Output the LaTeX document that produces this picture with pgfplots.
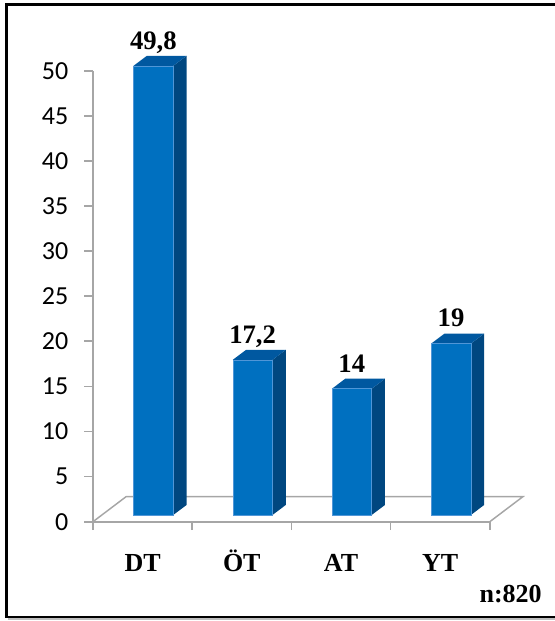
\documentclass[border=0pt]{standalone}
\usepackage{pgfplots}
\usepackage{pgfplotstable}
\pgfplotsset{compat=1.18}
\usepackage{fontspec}
\setmainfont{Liberation Serif}
\newfontfamily\carlito{Carlito}
\definecolor{barfront}{RGB}{0,112,192}
\definecolor{bartop}{RGB}{0,88,160}
\definecolor{barside}{RGB}{0,71,128}
\definecolor{baredge}{RGB}{80,150,215}
\definecolor{axisgray}{RGB}{166,166,166}

\pgfplotstableread{
x v lab
0.5 49.8 49,8
1.5 17.2 17,2
2.5 14 14
3.5 19 19
}\data

\begin{document}
\begin{tikzpicture}
\useasboundingbox (0,0) rectangle (416.25pt,465.75pt);
\begin{axis}[
  at={(69.75pt,74.475pt)}, anchor=south west,
  x=74.4pt, y=6.765pt,
  xmin=0, xmax=4, ymin=0, ymax=50,
  clip=false,
  axis x line*=bottom, axis y line*=left,
  axis line style={draw=axisgray, line width=1.3pt},
  tick style={draw=axisgray, line width=1.3pt},
  tick align=outside, major tick length=6.4pt,
  xtick={0,1,2,3,4}, xticklabels={,,,,},
  extra x ticks={0.5,1.5,2.5,3.5},
  extra x tick labels={DT,ÖT,AT,YT},
  extra x tick style={major tick length=0pt,
    xticklabel style={anchor=base, inner sep=0pt, yshift=-37.5pt,
      font=\bfseries\fontsize{19.5}{20}\selectfont}},
  ytick={0,5,...,50},
  /pgf/number format/assume math mode=true,
  yticklabel style={anchor=east, inner sep=0pt, xshift=-12pt,
    font=\carlito\fontsize{19.5}{20}\selectfont},
]
% floor
\addplot[draw=axisgray, line width=1.1pt] coordinates {(0,0) (0.333,2.77) (4.333,2.77) (4,0)};
% 3D bars
\pgfplotsinvokeforeach{0,1,2,3}{
  \pgfplotstablegetelem{#1}{x}\of\data \pgfmathsetmacro\xc{\pgfplotsretval}
  \pgfplotstablegetelem{#1}{v}\of\data \pgfmathsetmacro\vv{\pgfplotsretval}
  \pgfmathsetmacro\xl{\xc-0.091}
  \pgfmathsetmacro\xr{\xc+0.309}
  \pgfmathsetmacro\xd{\xr+0.134}
  \pgfmathsetmacro\xld{\xl+0.134}
  \pgfmathsetmacro\yb{0.743}
  \pgfmathsetmacro\yt{\vv+0.743}
  \pgfmathsetmacro\ybd{0.743+1.109}
  \pgfmathsetmacro\ytd{\yt+1.109}
  \edef\doplots{%
    \noexpand\addplot[fill=barside, draw=none] coordinates {(\xr,\yb) (\xd,\ybd) (\xd,\ytd) (\xr,\yt)} -- cycle;
    \noexpand\addplot[fill=bartop, draw=none] coordinates {(\xl,\yt) (\xr,\yt) (\xd,\ytd) (\xld,\ytd)} -- cycle;
    \noexpand\addplot[fill=barfront, draw=baredge, line width=0.4pt] coordinates {(\xl,\yb) (\xr,\yb) (\xr,\yt) (\xl,\yt)} -- cycle;
  }\doplots
}
% value labels
\addplot[draw=none, mark=none, nodes near coords, point meta=explicit symbolic,
  nodes near coords style={anchor=base, inner sep=0pt, yshift=12.5pt, text=black,
    font=\bfseries\fontsize{20}{20}\selectfont}]
  table[x expr=\thisrow{x}+0.109, y expr=\thisrow{v}+0.743, meta=lab]{\data};
\end{axis}
% frame
\draw[black!25, line width=1pt] (6pt,1.6pt) -- (430pt,1.6pt);
\draw[line width=1.6pt] (430pt,3pt) -- (4.9pt,3pt) -- (4.9pt,462.4pt) -- (430pt,462.4pt);
\node[anchor=base west, inner sep=0pt, font=\bfseries\fontsize{19.5}{20}\selectfont] at (359.5pt,13.9pt) {n:820};
\end{tikzpicture}
\end{document}
